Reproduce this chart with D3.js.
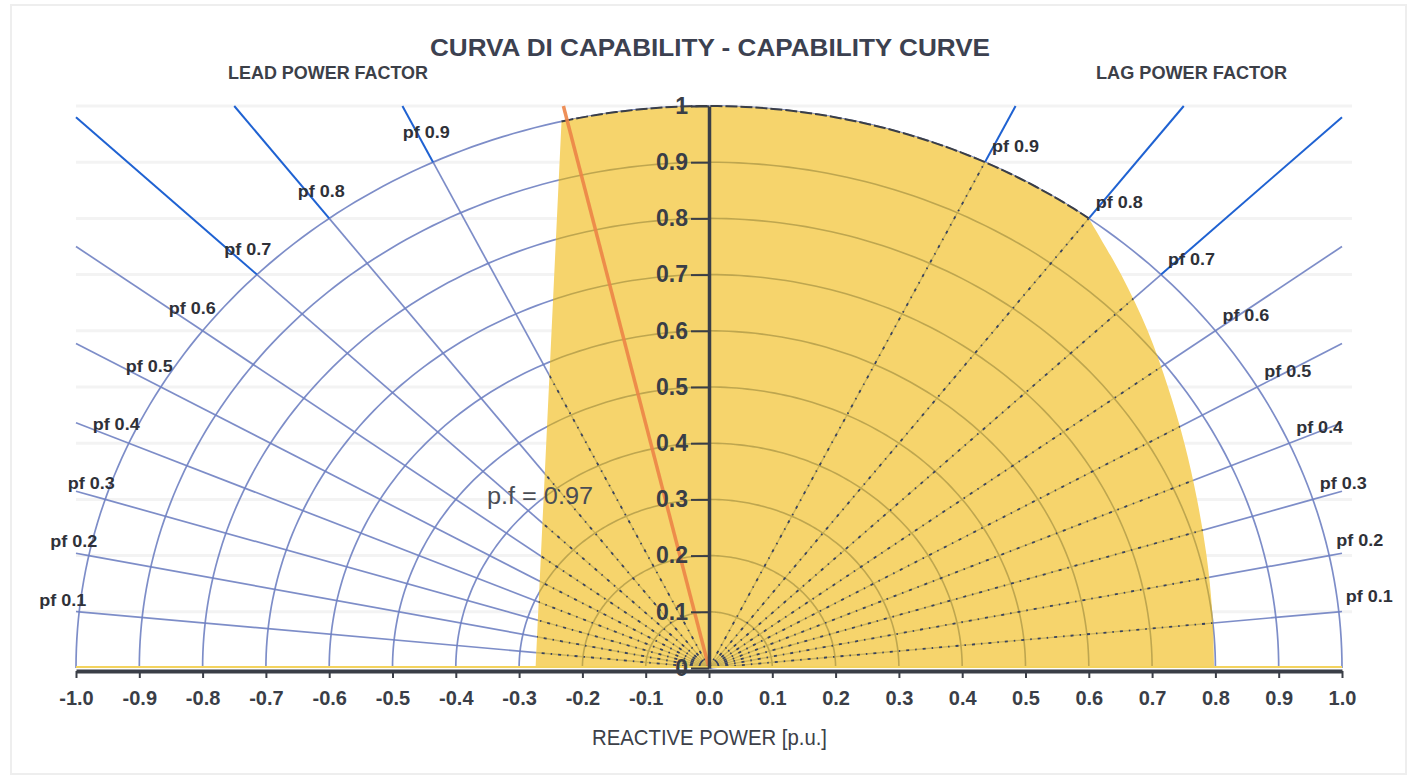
<!DOCTYPE html>
<html><head><meta charset="utf-8">
<script src="https://cdn.jsdelivr.net/npm/d3@7"></script>
<style>
body{margin:0;background:#fff;}
svg{display:block;font-family:"Liberation Sans",Arial,sans-serif;}
</style>
</head><body>
<svg id="chart" width="1417" height="779"></svg>
<script>
// ---------------- data ----------------
const xTicks = [-1.0,-0.9,-0.8,-0.7,-0.6,-0.5,-0.4,-0.3,-0.2,-0.1,0.0,0.1,0.2,0.3,0.4,0.5,0.6,0.7,0.8,0.9,1.0];
const xTickLabels = ["-1.0","-0.9","-0.8","-0.7","-0.6","-0.5","-0.4","-0.3","-0.2","-0.1","0.0","0.1","0.2","0.3","0.4","0.5","0.6","0.7","0.8","0.9","1.0"];
const yTicks = [0,0.1,0.2,0.3,0.4,0.5,0.6,0.7,0.8,0.9,1];
const yTickLabels = ["0","0.1","0.2","0.3","0.4","0.5","0.6","0.7","0.8","0.9","1"];
const radii = [0.1,0.2,0.3,0.4,0.5,0.6,0.7,0.8,0.9,1.0];
const powerFactors = [0.1,0.2,0.3,0.4,0.5,0.6,0.7,0.8,0.9];
const pfLabels = ["pf 0.1","pf 0.2","pf 0.3","pf 0.4","pf 0.5","pf 0.6","pf 0.7","pf 0.8","pf 0.9"];
const sides = ["lead","lag"];
// capability region (Q, P)
const capLeft = [[-0.274,0],[-0.233,0.9725]];
const capRight = [[0.6,0.8],[0.651,0.7],[0.693,0.6],[0.725,0.5],[0.751,0.4],[0.771,0.3],[0.786,0.2],[0.795,0.1],[0.798,0]];
const orangeLine = [[0,0],[-0.23,1.0]];
const orangeLabel = "p.f = 0.97";
const titleText = "CURVA DI CAPABILITY - CAPABILITY CURVE";
const leadText = "LEAD POWER FACTOR";
const lagText = "LAG POWER FACTOR";
const xAxisTitle = "REACTIVE POWER [p.u.]";

// ---------------- setup ----------------
const svg = d3.select("#chart");
const x = d3.scaleLinear().domain([-1,1]).range([76,1342]);
const y = d3.scaleLinear().domain([0,1]).range([668,106]);
const line = d3.line().x(d=>x(d[0])).y(d=>y(d[1]));

const gridBlue = "#6f81c2";
const brightBlue = "#1f62d2";
const dark = "#3a3e47";

// outer frame
svg.append("rect").attr("x",11).attr("y",5).attr("width",1395).attr("height",769)
  .attr("fill","none").attr("stroke","#eeeeee").attr("stroke-width",2);

// faint horizontal gridlines
svg.append("g").selectAll("line").data(yTicks.slice(1)).join("line")
  .attr("x1",x(-1)).attr("x2",x(1)+10).attr("y1",d=>y(d)).attr("y2",d=>y(d))
  .attr("stroke","#f3f3f3").attr("stroke-width",3);

function arcPts(r){ return d3.range(0,181,1).map(a=>[r*Math.cos(a*Math.PI/180), r*Math.sin(a*Math.PI/180)]); }
function radial(pf, side){
  const q = (side==="lead"?-1:1)*Math.sqrt(1-pf*pf), p = pf;
  const k = Math.min(1/Math.abs(q), 1/p);
  return {pf, side, q, p, inner:[[0,0],[q,p]], outer:[[q,p],[k*q,k*p]]};
}
const radials = [];
sides.forEach(s=>powerFactors.forEach(pf=>radials.push(radial(pf,s))));

// base grid
const grid = svg.append("g");
grid.selectAll("path.arc").data(radii).join("path").attr("class","arc")
  .attr("d",r=>line(arcPts(r))).attr("fill","none")
  .attr("stroke",gridBlue).attr("stroke-width",1.7).attr("opacity",0.9);
grid.selectAll("path.rin").data(radials).join("path").attr("class","rin")
  .attr("d",d=>line(d.inner)).attr("fill","none")
  .attr("stroke",gridBlue).attr("stroke-width",1.7).attr("opacity",0.9);
grid.selectAll("path.rout").data(radials).join("path").attr("class","rout")
  .attr("d",d=>line(d.outer)).attr("fill","none")
  .attr("stroke",d=>d.pf>=0.7?brightBlue:gridBlue)
  .attr("stroke-width",d=>d.pf>=0.7?2:1.7).attr("opacity",d=>d.pf>=0.7?1:0.9);

// capability region
const a1 = Math.atan2(capLeft[1][1],capLeft[1][0]);
const a2 = Math.atan2(capRight[0][1],capRight[0][0]);
const arcTop = d3.range(0,61).map(i=>{const a=a1+(a2-a1)*i/60; return [Math.cos(a),Math.sin(a)];});
const leftPath = line(capLeft.concat(arcTop));
const rightPath = d3.line().x(d=>x(d[0])).y(d=>y(d[1])).curve(d3.curveCatmullRom)(capRight).replace(/^M/,"L");
const capPath = leftPath + rightPath + "Z";
svg.append("defs").append("clipPath").attr("id","capClip").append("path").attr("d",capPath);
svg.append("path").attr("d",capPath).attr("fill","#f6d46c");

// grid seen through the yellow
const inner = svg.append("g").attr("clip-path","url(#capClip)");
inner.selectAll("path.arc").data(radii.slice(0,-1)).join("path")
  .attr("d",r=>line(arcPts(r))).attr("fill","none")
  .attr("stroke","#b49e4a").attr("stroke-width",1.6).attr("opacity",0.85);
inner.selectAll("path.rs").data(radials).join("path").attr("class","rs")
  .attr("d",d=>line(d.inner)).attr("fill","none")
  .attr("stroke","#c2ab55").attr("stroke-width",1.3).attr("opacity",0.8);
inner.selectAll("path.rd").data(radials).join("path").attr("class","rd")
  .attr("d",d=>line(d.inner)).attr("fill","none")
  .attr("stroke","#38425e").attr("stroke-width",1.8).attr("stroke-dasharray","3,6,1.5,6");
// unit circle boundary (dashed dark) along the top of region
svg.append("path").attr("d",line(arcTop)).attr("fill","none")
  .attr("stroke",dark).attr("stroke-width",2).attr("stroke-dasharray","12,3");

// orange pf 0.97 line
svg.append("path").attr("d",line(orangeLine)).attr("fill","none")
  .attr("stroke","#ec8447").attr("stroke-width",3.5).attr("opacity",0.9);

// yellow line along P = 0
svg.append("line").attr("x1",x(-1)).attr("x2",x(1)).attr("y1",y(0)-1).attr("y2",y(0)-1)
  .attr("stroke","#f3d35e").attr("stroke-width",2);

// x axis
const xAxis = svg.append("g").attr("transform",`translate(0,${y(0)+3})`)
  .call(d3.axisBottom(x).tickValues(xTicks).tickFormat((d,i)=>xTickLabels[i]).tickSize(7).tickSizeOuter(0));
xAxis.select(".domain").attr("stroke",dark).attr("stroke-width",4);
xAxis.selectAll(".tick line").attr("stroke",dark).attr("stroke-width",2);
xAxis.selectAll(".tick text").attr("y",34).attr("dy",0).attr("fill",dark)
  .attr("font-size",20).attr("font-weight","bold");

// y axis
const yAxis = svg.append("g").attr("transform",`translate(${x(0)},0)`)
  .call(d3.axisLeft(y).tickValues(yTicks).tickFormat((d,i)=>yTickLabels[i]).tickSize(18).tickSizeOuter(0));
yAxis.select(".domain").attr("stroke",dark).attr("stroke-width",3.5);
yAxis.selectAll(".tick line").attr("stroke",dark).attr("stroke-width",2);
yAxis.selectAll(".tick text").attr("x",-21).attr("fill",dark)
  .attr("font-size",23).attr("font-weight","bold");

// pf labels
const lbl = svg.append("g");
radials.forEach(d=>{
  const ix = x(d.q), iy = y(d.p);
  const i = powerFactors.indexOf(d.pf);
  const t = lbl.append("text").text(pfLabels[i])
    .attr("font-size",16).attr("font-weight","bold").attr("fill","#2f3138")
    .attr("textLength",47).attr("lengthAdjust","spacingAndGlyphs");
  if(d.side==="lead"){
    t.attr("x",ix+6+12*d.pf).attr("y",iy-(4+22*d.pf)).attr("text-anchor","end");
  } else {
    t.attr("x",ix+7).attr("y",iy-10).attr("text-anchor","start");
  }
});

// texts
svg.append("text").text(orangeLabel).attr("x",487).attr("y",504)
  .attr("font-size",23).attr("fill","#4a4d55").attr("textLength",106).attr("lengthAdjust","spacingAndGlyphs");
svg.append("text").text(titleText).attr("x",430).attr("y",56)
  .attr("font-size",24).attr("font-weight","bold").attr("fill","#3c4150")
  .attr("textLength",560).attr("lengthAdjust","spacingAndGlyphs");
svg.append("text").text(leadText).attr("x",228).attr("y",79)
  .attr("font-size",19).attr("font-weight","bold").attr("fill","#3c4048")
  .attr("textLength",200).attr("lengthAdjust","spacingAndGlyphs");
svg.append("text").text(lagText).attr("x",1096).attr("y",79)
  .attr("font-size",19).attr("font-weight","bold").attr("fill","#3c4048")
  .attr("textLength",191).attr("lengthAdjust","spacingAndGlyphs");
svg.append("text").text(xAxisTitle).attr("x",592).attr("y",745)
  .attr("font-size",22).attr("fill","#3c4048")
  .attr("textLength",235).attr("lengthAdjust","spacingAndGlyphs");
</script>
</body></html>
